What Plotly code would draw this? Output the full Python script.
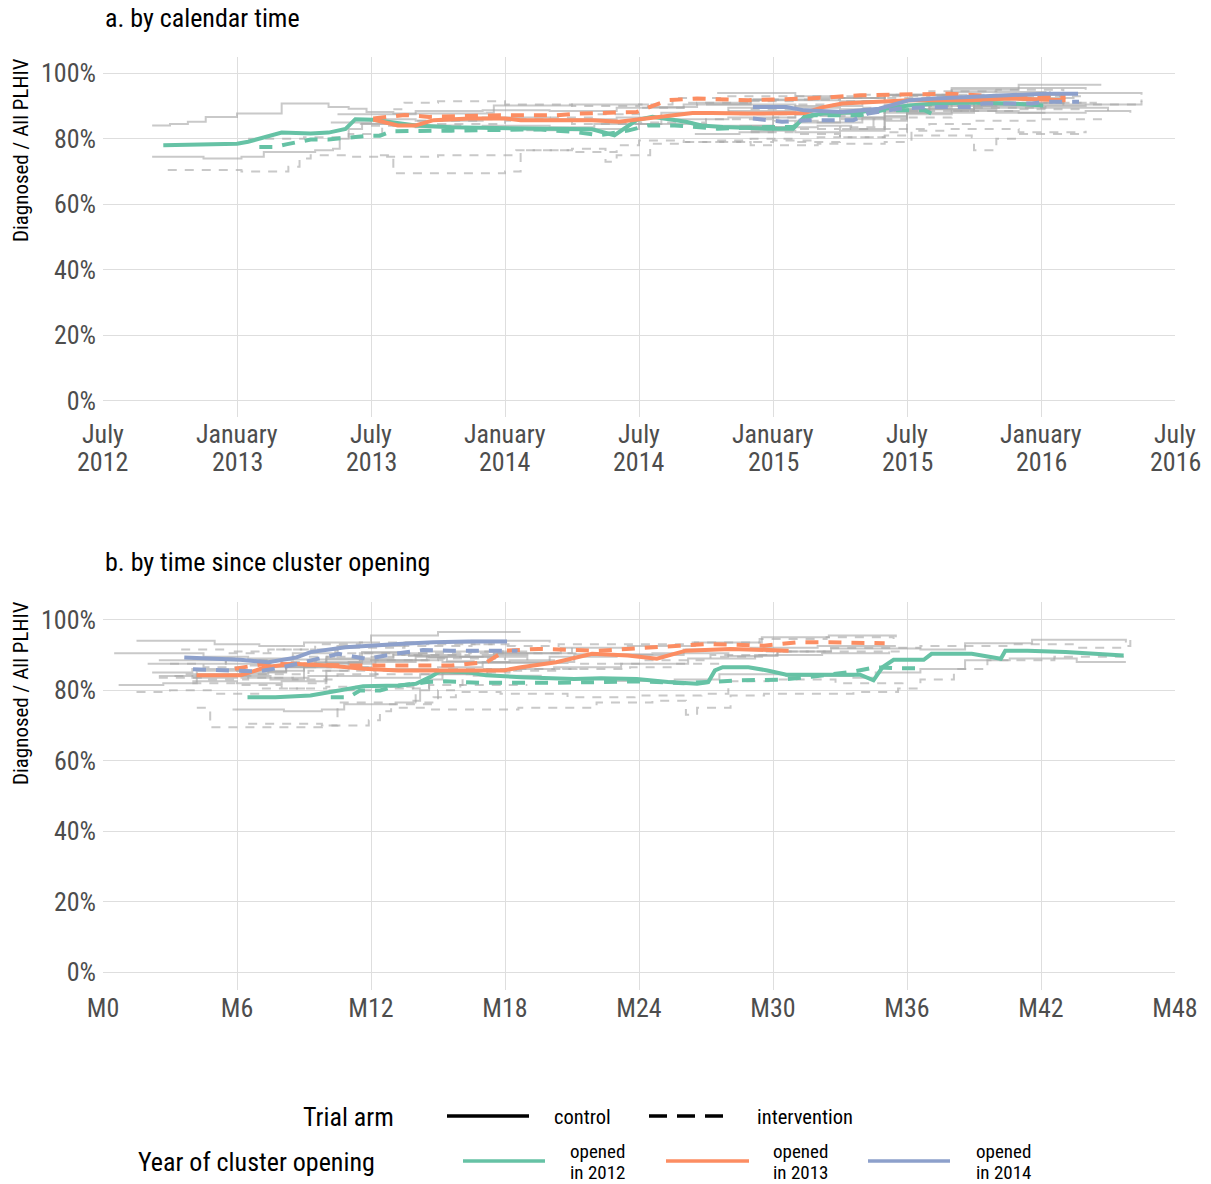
import plotly.graph_objects as go

W, H = 1211, 1184
FONT = "Roboto Condensed, Liberation Sans Narrow, DejaVu Sans Condensed, Roboto, sans-serif"

GREEN, ORANGE, BLUE = "#66c2a5", "#fc8d62", "#8da0cb"
GREY = "rgba(165,165,165,0.6)"

# ---------------- axis ticks ----------------
month_ticks = [0, 6, 12, 18, 24, 30, 36, 42, 48]
calendar_months = ["July", "January", "July", "January", "July", "January", "July", "January", "July"]
calendar_years = ["2012", "2013", "2013", "2014", "2014", "2015", "2015", "2016", "2016"]
since_labels = ["M0", "M6", "M12", "M18", "M24", "M30", "M36", "M42", "M48"]
pct_ticks = [0, 20, 40, 60, 80, 100]
pct_labels = ["0%", "20%", "40%", "60%", "80%", "100%"]

# ---------------- panel a: group means (months since July 2012, % diagnosed) ----------------
a_2012_ctrl_m = [2.7, 6.0, 6.5, 7.25, 8.0, 9.3, 10.1, 10.86, 11.3, 12.1, 14.0, 15.6, 18.0, 21.9, 22.9, 23.9, 24.6, 26.1, 26.8, 27.75, 29.75, 30.9, 31.4, 32.25, 33.9, 34.9, 36.1, 37.25, 38.9, 40.6, 42.1]
a_2012_ctrl_v = [78.0, 78.5, 79.1, 80.5, 81.9, 81.6, 81.9, 83.0, 86.0, 85.8, 84.1, 83.5, 83.3, 82.9, 81.1, 85.7, 86.7, 85.2, 84.1, 83.6, 83.1, 83.1, 86.7, 87.7, 88.2, 89.2, 90.2, 90.8, 91.1, 90.8, 90.2]
a_2012_intv_m = [7.0, 7.7, 8.2, 9.3, 10.1, 10.9, 11.8, 12.4, 12.9, 15.6, 17.2, 19.5, 21.1, 22.2, 23.5, 24.4, 25.6, 26.4, 27.5, 29.75, 30.9, 31.75, 33.9, 34.9, 36.8, 37.1]
a_2012_intv_v = [77.5, 77.5, 78.3, 79.8, 79.8, 80.4, 80.9, 80.9, 82.3, 82.5, 82.6, 82.9, 82.1, 81.1, 82.5, 84.1, 84.1, 83.8, 83.1, 83.6, 83.6, 87.2, 87.2, 88.7, 88.7, 87.7]
a_2013_ctrl_m = [12.1, 13.2, 14.0, 14.8, 16.4, 18.0, 18.7, 21.9, 23.1, 24.76, 26.4, 27.25, 28.9, 31.4, 32.25, 33.1, 34.9, 36.1, 38.9, 40.6, 43.1]
a_2013_ctrl_v = [85.9, 84.1, 84.1, 85.7, 86.2, 86.2, 85.7, 85.7, 85.2, 86.7, 87.9, 87.9, 87.7, 87.9, 89.7, 90.8, 91.3, 91.8, 91.8, 92.3, 91.8]
a_2013_intv_m = [12.1, 13.5, 14.6, 17.8, 20.3, 21.2, 23.9, 25.3, 26.6, 28.9, 31.6, 33.9, 37.9, 40.6, 43.1]
a_2013_intv_v = [86.2, 87.3, 86.7, 87.2, 87.2, 87.7, 88.2, 91.8, 92.3, 91.8, 92.3, 93.3, 93.8, 92.8, 92.8]
a_2014_ctrl_m = [29.1, 30.6, 31.4, 33.1, 34.75, 36.1, 37.25, 38.9, 40.6, 42.2, 43.66]
a_2014_ctrl_v = [89.7, 89.7, 88.7, 88.2, 89.2, 91.8, 92.3, 92.8, 93.3, 93.8, 93.8]
a_2014_intv_m = [29.1, 30.4, 31.6, 33.6, 34.25, 35.6, 36.9, 38.9, 39.4, 41.6, 42.2, 43.7]
a_2014_intv_v = [86.2, 85.2, 85.7, 85.7, 87.7, 89.2, 89.7, 89.7, 90.8, 90.8, 91.3, 91.3]

# ---------------- panel b: group means (months since cluster opening) ----------------
b_2012_ctrl_m = [6.47, 7.72, 9.29, 10.55, 11.65, 13.22, 14.01, 14.64, 15.11, 16.36, 17.15, 18.72, 21.1, 22.3, 23.9, 25.3, 26.6, 27.1, 27.4, 27.75, 28.9, 29.75, 30.6, 33.9, 34.5, 34.9, 35.4, 36.75, 37.1, 38.9, 40.2, 40.4, 41.4, 43.1, 45.7]
b_2012_ctrl_v = [78.0, 78.0, 78.5, 79.9, 81.1, 81.3, 81.8, 83.7, 85.4, 85.1, 84.2, 83.7, 83.2, 83.4, 83.2, 82.3, 81.8, 82.3, 85.6, 86.5, 86.5, 85.6, 84.4, 84.4, 82.8, 86.5, 88.6, 88.6, 90.3, 90.3, 88.9, 91.2, 91.2, 90.8, 89.8]
b_2012_intv_m = [10.2, 11.0, 11.5, 12.4, 13.0, 14.5, 15.3, 17.0, 20.3, 22.6, 24.0, 26.0, 27.5, 28.6, 30.4, 32.0, 33.6, 34.6, 35.6, 36.4]
b_2012_intv_v = [78.0, 78.0, 79.9, 79.9, 81.0, 82.3, 82.5, 82.1, 82.1, 82.5, 82.5, 82.0, 82.5, 82.8, 83.0, 84.0, 85.3, 86.5, 86.2, 86.2]
b_2013_ctrl_m = [4.19, 6.15, 6.62, 7.25, 8.51, 10.08, 11.65, 13.22, 17.94, 18.72, 20.29, 21.9, 23.5, 24.8, 26.1, 28.1, 30.7]
b_2013_ctrl_v = [84.2, 84.2, 85.1, 86.5, 87.5, 87.0, 86.1, 85.6, 85.6, 86.5, 87.9, 90.3, 89.8, 88.9, 91.2, 91.7, 91.2]
b_2013_intv_m = [5.9, 7.3, 11.0, 13.9, 15.6, 17.2, 18.0, 19.5, 22.2, 25.8, 27.1, 29.6, 31.1, 32.5, 34.0, 35.0]
b_2013_intv_v = [86.1, 87.5, 87.0, 87.0, 87.0, 88.0, 91.2, 91.7, 91.2, 92.6, 93.1, 92.6, 93.6, 93.6, 93.3, 93.3]
b_2014_ctrl_m = [3.64, 6.15, 7.41, 8.67, 9.29, 10.86, 13.22, 14.79, 16.36, 18.09]
b_2014_ctrl_v = [89.3, 88.6, 87.9, 89.3, 90.8, 92.2, 93.1, 93.6, 93.8, 93.8]
b_2014_intv_m = [4.03, 5.99, 6.94, 8.04, 9.29, 10.55, 11.81, 13.06, 14.32, 15.58, 18.56]
b_2014_intv_v = [85.9, 85.6, 85.3, 86.5, 88.4, 90.3, 88.9, 90.3, 91.4, 91.2, 91.2]

# ---------------- individual clusters (months since July 2012, % diagnosed) ----------------
cl01 = [(2.2, 84.1), (3.0, 84.5), (3.8, 85.2), (4.6, 86.7), (6.0, 87.7), (8.0, 90.8), (9.6, 90.8), (10.1, 89.7), (11.0, 89.2), (11.8, 88.2), (13.0, 87.7), (17.2, 88.0), (17.5, 90.2), (21.0, 90.5), (24.4, 89.7), (26.6, 91.0), (29.0, 91.8), (33.0, 91.5), (35.0, 93.3), (38.0, 94.3), (42.2, 93.5)]
cl02 = [(2.2, 74.5), (4.5, 74.0), (6.2, 74.5), (7.2, 76.0), (9.5, 76.5), (10.3, 77.0), (10.6, 80.0), (11.0, 83.0), (11.6, 84.6), (13.0, 84.1), (16.0, 83.3), (19.0, 82.6), (22.0, 83.0), (24.0, 84.5), (27.0, 84.0), (30.0, 83.5), (31.0, 85.0), (33.0, 86.0), (35.0, 88.5), (37.0, 89.0), (40.0, 88.0), (42.2, 88.0)]
cl03 = [(2.9, 70.5), (6.2, 70.0), (8.3, 71.5), (8.8, 74.0), (9.3, 75.0), (11.0, 74.5), (15.0, 75.0), (18.5, 76.5), (21.0, 77.0), (22.5, 73.0), (23.0, 75.0), (24.5, 78.5), (26.0, 79.0), (30.0, 79.5), (32.0, 80.5), (33.0, 83.0), (34.5, 86.0), (36.0, 88.5), (39.0, 89.5), (42.2, 90.0)]
cl04 = [(6.5, 80.0), (9.0, 80.5), (11.0, 81.5), (12.5, 84.5), (14.0, 85.5), (17.0, 86.0), (20.0, 86.5), (22.0, 87.5), (24.0, 89.5), (26.0, 91.0), (29.0, 92.0), (33.0, 92.5), (37.0, 93.0), (40.0, 92.0), (42.0, 92.5), (42.4, 94.5)]
cl05 = [(10.2, 85.0), (12.0, 86.0), (14.0, 85.5), (17.0, 86.5), (20.0, 86.0), (23.0, 86.5), (25.0, 88.0), (28.0, 89.5), (31.0, 90.0), (34.0, 91.5), (37.0, 92.0), (40.0, 92.5), (43.5, 92.5)]
cl06 = [(11.5, 84.5), (14.0, 83.5), (17.0, 84.0), (20.0, 83.5), (22.0, 84.5), (25.0, 86.0), (28.0, 86.5), (31.0, 87.5), (34.0, 89.0), (37.0, 90.0), (40.0, 90.5), (43.0, 91.0)]
cl07 = [(10.5, 87.5), (14.0, 88.5), (17.0, 88.7), (20.0, 88.5), (23.0, 89.5), (26.0, 90.5), (29.0, 92.0), (32.0, 92.5), (35.0, 93.5), (38.0, 95.0), (41.0, 95.5), (44.0, 95.0)]
cl08 = [(12.4, 75.0), (13.0, 69.5), (18.0, 70.0), (18.7, 76.5), (21.0, 76.0), (23.0, 78.0), (24.0, 79.5), (26.0, 79.0), (29.0, 78.0), (32.0, 78.5), (35.0, 79.0), (36.2, 82.5), (38.0, 83.0), (41.0, 82.0), (44.0, 82.5)]
cl09 = [(13.0, 89.0), (13.5, 91.0), (15.0, 91.5), (18.0, 90.5), (21.0, 90.0), (24.0, 90.5), (25.5, 92.5), (28.0, 93.0), (31.0, 93.0), (34.0, 93.5), (37.0, 94.5), (40.0, 95.0), (43.0, 94.5)]
cl10 = [(12.0, 84.0), (15.0, 84.5), (18.0, 85.5), (21.0, 84.5), (24.0, 85.0), (27.0, 86.0), (30.0, 87.5), (33.0, 88.5), (36.0, 90.0), (39.0, 91.0), (44.5, 91.0)]
cl11 = [(27.5, 94.0), (31.0, 93.0), (33.0, 92.5), (35.0, 93.5), (38.0, 95.5), (41.0, 96.5), (44.7, 96.5)]
cl12 = [(28.0, 88.5), (31.0, 87.5), (33.0, 86.5), (35.0, 88.0), (37.0, 90.5), (40.0, 91.0), (43.0, 90.5), (46.5, 92.0)]
cl13 = [(28.5, 84.0), (30.0, 83.5), (32.0, 84.0), (33.5, 83.0), (35.0, 87.0), (36.0, 89.0), (39.0, 90.0), (42.0, 89.5), (45.0, 88.5)]
cl14 = [(29.0, 82.5), (31.0, 82.0), (33.0, 82.5), (35.0, 85.5), (36.0, 88.0), (39.0, 89.5), (42.0, 90.0), (44.0, 90.5)]
cl15 = [(27.0, 90.5), (31.0, 89.5), (33.0, 89.0), (35.0, 90.5), (37.0, 92.5), (40.0, 93.5), (43.0, 94.0), (46.5, 93.5)]
cl16 = [(26.5, 81.5), (28.5, 82.0), (30.0, 85.5), (32.0, 85.0), (34.0, 86.5), (36.0, 87.5), (38.0, 88.5), (41.0, 88.0), (44.0, 88.5), (46.0, 88.0)]
cl17 = [(28.5, 87.5), (30.0, 86.5), (32.0, 87.0), (34.0, 89.5), (36.0, 92.0), (39.0, 92.5), (42.0, 93.0), (44.0, 92.5)]
cl18 = [(29.0, 82.0), (31.0, 81.5), (33.0, 80.5), (35.0, 81.0), (38.9, 80.5), (39.0, 76.5), (39.7, 76.5), (40.0, 80.0), (41.0, 81.5), (44.0, 81.5)]
cl19 = [(27.5, 79.5), (29.0, 80.0), (31.0, 79.0), (33.0, 80.5), (35.0, 82.0), (36.0, 86.5), (38.0, 88.5), (41.0, 89.0), (44.0, 88.5)]
cl20 = [(29.0, 91.5), (31.0, 90.5), (33.0, 91.5), (35.0, 93.0), (37.0, 93.5), (40.0, 93.0), (43.0, 93.5)]
cl21 = [(29.0, 83.5), (31.0, 83.0), (33.0, 83.5), (35.0, 83.0), (37.0, 84.5), (39.0, 85.5), (42.0, 86.0), (45.0, 85.5)]
cl22 = [(29.0, 89.0), (31.0, 88.5), (33.0, 88.0), (35.0, 89.5), (38.0, 90.5), (41.0, 91.0), (44.0, 90.5), (46.5, 91.5)]

clusters = [cl01, cl02, cl03, cl04, cl05, cl06, cl07, cl08, cl09, cl10, cl11,
            cl12, cl13, cl14, cl15, cl16, cl17, cl18, cl19, cl20, cl21, cl22]
cluster_arm = ["control", "control", "intervention", "intervention",
               "control", "control", "control", "intervention", "intervention", "intervention",
               "control", "control", "control", "control", "control", "control",
               "intervention", "intervention", "intervention", "intervention", "intervention", "intervention"]
# opening month of each cluster (months since July 2012)
cluster_open = [-3.6, -3.6, -3.6, -3.6,
                8.0, 7.8, 8.5, 8.2, 7.6, 8.8,
                26.0, 25.5, 26.0, 25.0, 26.5, 25.8, 25.5, 25.0, 26.0, 25.5, 26.5, 25.0]

fig = go.Figure()

# grey cluster lines
for pts, arm, op in zip(clusters, cluster_arm, cluster_open):
    m = [p[0] for p in pts]
    v = [p[1] for p in pts]
    dash = "solid" if arm == "control" else "9px,8px"
    line = dict(color=GREY, width=2, dash=dash, shape="hv")
    fig.add_trace(go.Scatter(x=m, y=v, mode="lines", line=line, xaxis="x", yaxis="y",
                             hoverinfo="skip", showlegend=False))
    fig.add_trace(go.Scatter(x=[t - op for t in m], y=v, mode="lines", line=line, xaxis="x2", yaxis="y2",
                             hoverinfo="skip", showlegend=False))

DASH = "13px,10px"
groups_a = [
    (a_2012_ctrl_m, a_2012_ctrl_v, GREEN, "solid"), (a_2012_intv_m, a_2012_intv_v, GREEN, DASH),
    (a_2013_ctrl_m, a_2013_ctrl_v, ORANGE, "solid"), (a_2013_intv_m, a_2013_intv_v, ORANGE, DASH),
    (a_2014_ctrl_m, a_2014_ctrl_v, BLUE, "solid"), (a_2014_intv_m, a_2014_intv_v, BLUE, DASH),
]
groups_b = [
    (b_2012_ctrl_m, b_2012_ctrl_v, GREEN, "solid"), (b_2012_intv_m, b_2012_intv_v, GREEN, DASH),
    (b_2013_ctrl_m, b_2013_ctrl_v, ORANGE, "solid"), (b_2013_intv_m, b_2013_intv_v, ORANGE, DASH),
    (b_2014_ctrl_m, b_2014_ctrl_v, BLUE, "solid"), (b_2014_intv_m, b_2014_intv_v, BLUE, DASH),
]
for m, v, c, d in groups_a:
    fig.add_trace(go.Scatter(x=m, y=v, mode="lines", line=dict(color=c, width=4, dash=d),
                             xaxis="x", yaxis="y", hoverinfo="skip", showlegend=False))
for m, v, c, d in groups_b:
    fig.add_trace(go.Scatter(x=m, y=v, mode="lines", line=dict(color=c, width=4, dash=d),
                             xaxis="x2", yaxis="y2", hoverinfo="skip", showlegend=False))


def px(x):
    return x / W


def py(y):
    return 1 - y / H


TICKCOL = "#4d4d4d"
xdom = [px(103), px(1175)]
axis_common = dict(showgrid=True, gridcolor="#dedede", gridwidth=1, zeroline=False, showline=False,
                   ticks="", automargin=False, tickfont=dict(family=FONT, size=26, color=TICKCOL))

fig.update_layout(
    template="none",
    width=W, height=H, autosize=False,
    margin=dict(l=0, r=0, t=0, b=0, pad=0),
    plot_bgcolor="white", paper_bgcolor="white",
    font=dict(family=FONT),
    xaxis=dict(domain=xdom, anchor="y", range=[0, 48], tickmode="array", tickvals=month_ticks,
               showticklabels=False, **axis_common),
    yaxis=dict(domain=[py(417), py(57)], anchor="x", range=[-5, 105], tickmode="array",
               tickvals=pct_ticks, ticktext=pct_labels, ticklabelstandoff=6, **axis_common),
    xaxis2=dict(domain=xdom, anchor="y2", range=[0, 48], tickmode="array", tickvals=month_ticks,
                ticktext=since_labels, ticklabelstandoff=0, **axis_common),
    yaxis2=dict(domain=[py(990), py(602)], anchor="x2", range=[-5, 105], tickmode="array",
                tickvals=pct_ticks, ticktext=pct_labels, ticklabelstandoff=6, **axis_common),
)

ann = []
# two-line calendar tick labels for panel a (placed on the x axis scale)
for t, mo, yr in zip(month_ticks, calendar_months, calendar_years):
    ann.append(dict(x=t, xref="x", y=py(434), yref="paper", text=mo, showarrow=False,
                    xanchor="center", yanchor="middle", font=dict(family=FONT, size=26, color=TICKCOL)))
    ann.append(dict(x=t, xref="x", y=py(462), yref="paper", text=yr, showarrow=False,
                    xanchor="center", yanchor="middle", font=dict(family=FONT, size=26, color=TICKCOL)))

ann.append(dict(x=px(103), y=py(18), xref="paper", yref="paper", text="a. by calendar time",
                showarrow=False, xanchor="left", yanchor="middle", font=dict(family=FONT, size=26, color="black")))
ann.append(dict(x=px(103), y=py(562), xref="paper", yref="paper", text="b. by time since cluster opening",
                showarrow=False, xanchor="left", yanchor="middle", font=dict(family=FONT, size=26, color="black")))
for yc in (150, 693):
    ann.append(dict(x=px(21), y=py(yc), xref="paper", yref="paper", text="Diagnosed / All PLHIV",
                    textangle=-90, showarrow=False, xanchor="center", yanchor="middle",
                    font=dict(family=FONT, size=21, color="black")))

# legend (drawn manually)
ann.append(dict(x=px(396), y=py(1117), xref="paper", yref="paper", text="Trial arm", showarrow=False,
                xanchor="right", yanchor="middle", font=dict(family=FONT, size=26, color="black")))
ann.append(dict(x=px(377), y=py(1162), xref="paper", yref="paper", text="Year of cluster opening",
                showarrow=False, xanchor="right", yanchor="middle", font=dict(family=FONT, size=26, color="black")))
ann.append(dict(x=px(552), y=py(1117), xref="paper", yref="paper", text="control", showarrow=False,
                xanchor="left", yanchor="middle", font=dict(family=FONT, size=20.5, color="black")))
ann.append(dict(x=px(755), y=py(1117), xref="paper", yref="paper", text="intervention", showarrow=False,
                xanchor="left", yanchor="middle", font=dict(family=FONT, size=20.5, color="black")))
legend_years = [("in 2012", GREEN, 463, 545, 568),
                ("in 2013", ORANGE, 666, 749, 771),
                ("in 2014", BLUE, 868, 950, 974)]
shapes = []
shapes.append(dict(type="line", xref="paper", yref="paper", x0=px(447), x1=px(529), y0=py(1116), y1=py(1116),
                   line=dict(color="black", width=3.5)))
shapes.append(dict(type="line", xref="paper", yref="paper", x0=px(649), x1=px(730), y0=py(1116), y1=py(1116),
                   line=dict(color="black", width=3.5, dash="18px,10px")))
for txt, col, x0, x1, xt in legend_years:
    shapes.append(dict(type="line", xref="paper", yref="paper", x0=px(x0), x1=px(x1), y0=py(1161), y1=py(1161),
                       line=dict(color=col, width=3.5)))
    ann.append(dict(x=px(xt), y=py(1151), xref="paper", yref="paper", text="opened", showarrow=False,
                    xanchor="left", yanchor="middle", font=dict(family=FONT, size=19, color="black")))
    ann.append(dict(x=px(xt), y=py(1172), xref="paper", yref="paper", text=txt, showarrow=False,
                    xanchor="left", yanchor="middle", font=dict(family=FONT, size=19, color="black")))

fig.update_layout(annotations=ann, shapes=shapes)
fig.write_html("out.html", config={"displayModeBar": False},
               post_script="document.body.style.margin='0px';")
